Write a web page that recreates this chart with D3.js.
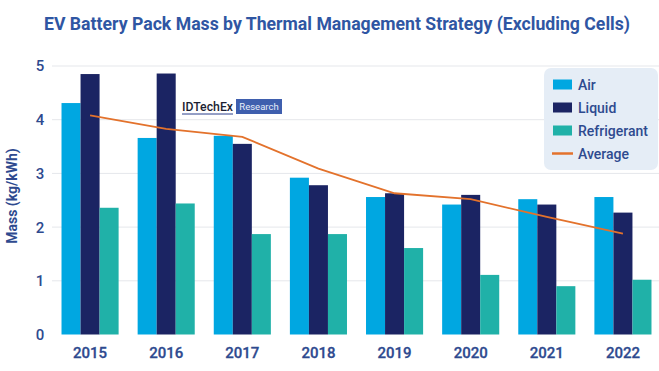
<!DOCTYPE html>
<html>
<head>
<meta charset="utf-8">
<script src="https://cdn.jsdelivr.net/npm/d3@7"></script>
<style>
  html, body { margin: 0; padding: 0; background: #fff; }
  svg { display: block; font-family: Roboto, "Open Sans", sans-serif; }
</style>
</head>
<body>
<svg id="chart" width="659" height="371"></svg>
<script>
const years = ["2015", "2016", "2017", "2018", "2019", "2020", "2021", "2022"];
const air = [4.31, 3.66, 3.70, 2.92, 2.56, 2.42, 2.52, 2.56];
const liquid = [4.85, 4.86, 3.55, 2.78, 2.63, 2.60, 2.42, 2.27];
const refrigerant = [2.36, 2.44, 1.87, 1.87, 1.61, 1.11, 0.90, 1.02];
const average = [4.08, 3.83, 3.68, 3.09, 2.63, 2.52, 2.19, 1.88];
const yTicks = [0, 1, 2, 3, 4, 5];
const seriesNames = ["Air", "Liquid", "Refrigerant"];
const colors = { Air: "#00a7e1", Liquid: "#1b2463", Refrigerant: "#20b1a8", Average: "#e3722c" };

const svg = d3.select("#chart");
const textColor = "#2e4a8f";

const x = d3.scaleBand().domain(years).range([52, 661]).paddingInner(0.25).paddingOuter(0.125);
const xs = d3.scaleBand().domain(seriesNames).range([0, x.bandwidth()]);
const y = d3.scaleLinear().domain([0, 5]).range([334.5, 66]);

// title
svg.append("text").attr("x", 337).attr("y", 30).attr("text-anchor", "middle")
  .attr("font-size", 18).attr("font-weight", 700).attr("fill", "#2f56a3")
  .attr("textLength", 586).attr("lengthAdjust", "spacingAndGlyphs")
  .text("EV Battery Pack Mass by Thermal Management Strategy (Excluding Cells)");

// grid
svg.append("g").selectAll("line").data(yTicks.filter(d => d > 0)).join("line")
  .attr("x1", 52).attr("x2", 659).attr("y1", d => y(d)).attr("y2", d => y(d))
  .attr("stroke", "#e5e7eb").attr("stroke-width", 1);

// y tick labels
svg.append("g").selectAll("text").data(yTicks).join("text")
  .attr("x", 40).attr("y", d => y(d)).attr("dy", "0.36em").attr("text-anchor", "middle")
  .attr("font-size", 15).attr("font-weight", 500).attr("fill", textColor)
  .text(d => d);

// y axis title
svg.append("text").attr("transform", "translate(17,196) rotate(-90)")
  .attr("text-anchor", "middle").attr("font-size", 14).attr("font-weight", 700)
  .attr("fill", textColor).text("Mass (kg/kWh)");

// bars
const data = { Air: air, Liquid: liquid, Refrigerant: refrigerant };
const g = svg.append("g");
seriesNames.forEach(s => {
  g.append("g").selectAll("rect").data(years).join("rect")
    .attr("x", (d) => x(d) + xs(s))
    .attr("width", xs.bandwidth())
    .attr("y", (d, i) => y(data[s][i]))
    .attr("height", (d, i) => y(0) - y(data[s][i]))
    .attr("fill", colors[s]);
});

// x labels
svg.append("g").selectAll("text").data(years).join("text")
  .attr("x", d => x(d) + x.bandwidth() / 2).attr("y", 358).attr("text-anchor", "middle")
  .attr("font-size", 15).attr("font-weight", 500).attr("fill", textColor)
  .attr("stroke", textColor).attr("stroke-width", 0.3)
  .text(d => d);

// average line
const line = d3.line().x((d, i) => x(years[i]) + x.bandwidth() / 2).y(d => y(d));
svg.append("path").datum(average).attr("d", line).attr("fill", "none")
  .attr("stroke", colors.Average).attr("stroke-width", 1.8);

// watermark logo
const logo = svg.append("g");
logo.append("text").attr("x", 182).attr("y", 111).attr("font-size", 13).attr("font-weight", 500)
  .attr("fill", "#1c1f33").attr("textLength", 51).attr("lengthAdjust", "spacingAndGlyphs").text("IDTechEx");
logo.append("line").attr("x1", 182).attr("x2", 233).attr("y1", 114).attr("y2", 114)
  .attr("stroke", "#2b3f8c").attr("stroke-width", 1);
logo.append("rect").attr("x", 236).attr("y", 99).attr("width", 46).attr("height", 15).attr("fill", "#3f5fae");
logo.append("text").attr("x", 259).attr("y", 110).attr("text-anchor", "middle").attr("font-size", 9.5)
  .attr("fill", "#e8eefa").text("Research");

// legend
const legend = svg.append("g");
legend.append("rect").attr("x", 544).attr("y", 68).attr("width", 114).attr("height", 102)
  .attr("rx", 7).attr("fill", "#e5edf6");
const legendItems = ["Air", "Liquid", "Refrigerant", "Average"];
legendItems.forEach((name, i) => {
  const cy = 84.5 + i * 23;
  if (name === "Average") {
    legend.append("line").attr("x1", 552).attr("x2", 573).attr("y1", cy).attr("y2", cy)
      .attr("stroke", colors.Average).attr("stroke-width", 2.5);
  } else {
    legend.append("rect").attr("x", 553).attr("y", cy - 5).attr("width", 19).attr("height", 10)
      .attr("fill", colors[name]);
  }
  legend.append("text").attr("x", 578).attr("y", cy).attr("dy", "0.36em")
    .attr("font-size", 14).attr("font-weight", 500).attr("fill", textColor).text(name);
});
</script>
</body>
</html>
